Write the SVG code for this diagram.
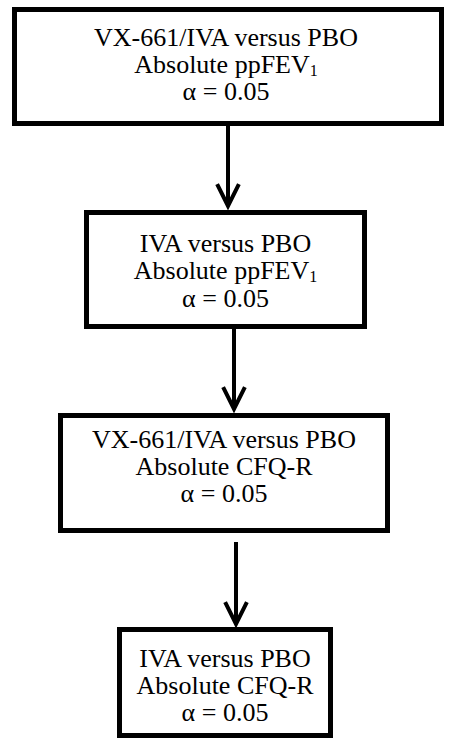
<svg xmlns="http://www.w3.org/2000/svg" width="452" height="742" viewBox="0 0 452 742">
<style>
.box{fill:#fff;stroke:#000;stroke-width:5}
.t{font-family:'Liberation Serif','Times New Roman',serif;font-size:26px;fill:#000;text-anchor:middle}
.sub{font-size:16px}
.conn{stroke:#000;stroke-width:4;fill:none}
.head{stroke:#000;stroke-width:4;fill:none;stroke-linecap:square}
</style>
<rect width="452" height="742" fill="#fff"/>
<g id="node1">
<rect class="box" x="14.5" y="9.5" width="427" height="114"/>
<text class="t" x="226" y="46">VX-661/IVA versus PBO</text>
<text class="t" x="226" y="73">Absolute ppFEV<tspan class="sub" dy="3">1</tspan></text>
<text class="t" x="226" y="100">α = 0.05</text>
</g>
<g id="node2">
<rect class="box" x="86.5" y="212.5" width="278" height="114"/>
<text class="t" x="225.5" y="252">IVA versus PBO</text>
<text class="t" x="225.5" y="279">Absolute ppFEV<tspan class="sub" dy="3">1</tspan></text>
<text class="t" x="225.5" y="307">α = 0.05</text>
</g>
<g id="node3">
<rect class="box" x="60.5" y="415.5" width="327" height="115"/>
<text class="t" x="224" y="448">VX-661/IVA versus PBO</text>
<text class="t" x="224" y="475">Absolute CFQ-R</text>
<text class="t" x="224" y="502">α = 0.05</text>
</g>
<g id="node4">
<rect class="box" x="119.5" y="629.5" width="211" height="106"/>
<text class="t" x="225" y="667">IVA versus PBO</text>
<text class="t" x="225" y="694">Absolute CFQ-R</text>
<text class="t" x="225" y="721">α = 0.05</text>
</g>
<g id="connectors">
<path class="conn" d="M228 126 V206"/>
<path class="head" d="M218 186 L228 206 L238 186"/>
<path class="conn" d="M234 329 V409"/>
<path class="head" d="M224 389 L234 409 L244 389"/>
<path class="conn" d="M236 542 V624"/>
<path class="head" d="M226 604 L236 624 L246 604"/>
</g>
</svg>
